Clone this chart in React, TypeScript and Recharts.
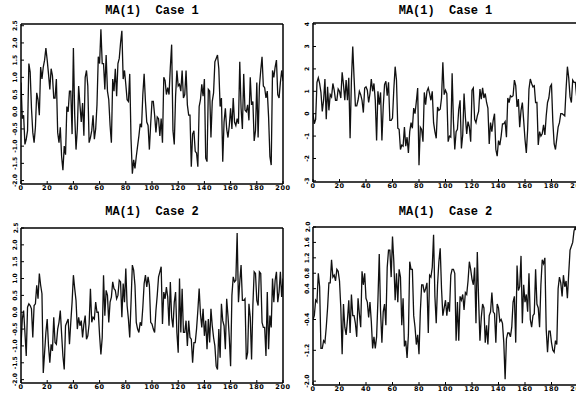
import { LineChart, Line, XAxis, YAxis } from 'recharts';

// MA(1) simulated series, 201 points each (t = 0..200)
const case1Left = [
  0.85, -0.2, -0.1, -0.95, -0.8, -0.55, 1.4, 1.15, 0.1, -0.6,
  -0.9, -0.45, 0.55, 0.35, -0.1, 1.3, 0.95, 1.3, 1.5, 1.85,
  1.5, 1.1, 0.65, 1.25, 1.05, 0.4, 0.4, 0.95, -0.6, -0.9,
  -0.45, -1.3, -1.7, -1.0, -1.25, 0.15, 0.0, 0.6, 0.6, -0.65,
  1.85, -0.1, -1.1, -0.5, 0.75, 0.2, -0.3, 0.25, -0.7, 1.0,
  1.2, 0.75, -0.9, -0.75, -0.55, -0.1, -0.8, -0.5, 0.2, 1.6,
  1.4, 2.4, 1.4, 1.4, 0.65, 1.65, 0.6, 0.35, -0.4, -0.9,
  0.95, 0.6, 1.25, 0.45, 1.4, 1.55, 2.0, 2.35, 0.95, 1.2,
  0.8, 0.35, 0.3, 1.1, -0.8, -1.8, -1.4, -1.65, -1.3, -1.0,
  -0.7, -0.35, -0.45, 0.5, 1.1, 0.3, -0.3, -0.4, -1.1, -0.35,
  0.3, 0.3, -0.1, -0.6, -0.15, -0.2, -0.7, -0.2, -0.9, 1.0,
  0.9, 0.5, 0.7, 0.5, 1.3, 1.95, -0.55, -0.95, 0.45, 1.2,
  0.75, 0.8, 0.6, 1.2, 0.4, 0.5, 1.2, 0.2, -0.1, -0.1,
  -1.6, -0.65, -0.55, -1.15, -1.2, -1.6, 0.15, 0.35, 0.8, 0.45,
  0.95, -1.35, -1.45, 0.65, 0.6, -0.75, 0.3, 0.55, 1.45, 1.55,
  1.65, 1.25, 0.15, 0.4, -1.45, -0.3, 0.1, -0.5, -0.75, -0.4,
  0.1, -0.5, 0.4, -0.3, -0.4, -0.2, -0.35, 1.45, 0.1, -0.5,
  1.1, 0.05, 0.0, 0.2, -0.25, 1.0, 0.2, 0.3, -0.85, -0.55,
  0.85, -0.75, 0.75, 1.2, 1.6, 0.75, 0.7, 0.4, 0.6, -0.15,
  -1.3, -1.55, 1.2, 1.0, 1.3, 1.5, 0.5, 0.4, 0.85, 1.2,
  0.9,
];

const case1Right = [
  0.0, -0.45, -0.25, 1.4, 1.6, 1.35, 0.95, 0.1, 0.6, 1.55,
  -0.25, 1.2, 0.15, 0.85, 0.75, 1.35, 1.05, 0.6, 0.6, 1.1,
  1.0, 0.7, 1.85, 1.3, 0.6, 1.5, 0.6, 1.6, -1.1, 1.5,
  3.0, 1.6, 0.35, 0.35, 0.6, 1.0, 0.85, 0.6, 0.05, 1.15,
  1.2, 1.05, 0.5, 0.9, 1.55, 1.0, 1.35, 0.6, -1.2, 1.0,
  0.4, 0.95, -1.2, 0.3, 1.3, 1.45, 0.8, 1.4, -0.3, -0.3,
  -0.2, 1.1, 2.1, 1.5, -0.65, -0.7, -1.6, -1.4, -1.45, -0.6,
  -1.45, -1.05, -1.75, -0.8, -0.4, -0.65, 0.25, 0.0, 0.55, 1.15,
  -2.3, -0.6, -0.7, -1.25, 0.95, 0.4, 1.0, 1.15, 0.9, 0.6,
  1.0, -0.4, -0.8, -1.1, 0.3, 0.15, 0.2, 0.7, 2.3, 0.85,
  1.05, 0.9, -1.25, -1.0, -1.05, 1.8, -0.35, -1.6, -0.8, -0.7,
  0.2, 0.6, -1.55, -0.95, 0.9, -0.15, -0.9, -0.35, -0.6, -1.25,
  1.05, 1.15, -0.25, -0.4, -0.1, 0.1, 1.1, 0.65, 1.15, 0.7,
  0.9, 0.5, 0.25, -1.35, -0.4, -0.8, -0.3, 0.0, -1.6, -1.9,
  -1.2, -1.4, -1.0, -0.45, -0.45, -0.35, -1.05, 0.7, 0.5, 0.8,
  0.75, 0.8, 1.5, 1.25, 0.3, 0.65, -0.6, 0.15, 0.5, -0.3,
  -1.15, -1.75, -0.7, 1.1, 1.55, 1.35, 1.2, 1.25, 0.5, 0.5,
  -1.4, -0.8, -1.0, -0.9, -0.5, -0.95, -0.1, 0.5, 0.7, 1.2,
  1.3, -0.35, -1.35, -1.6, -1.1, -0.6, -0.4, 0.0, 0.0, -0.05,
  -0.1, 1.1, 2.1, 1.6, 0.75, 0.5, 1.5, 1.4, 1.4, 0.75,
  -0.15,
];

const case2Left = [
  -1.0, -0.2, 0.05, -0.6, -1.3, 0.15, 0.25, 0.2, 0.1, -0.75,
  0.2, 0.25, 0.8, 0.4, 1.15, 0.8, 0.55, -1.8, -1.2, -0.6,
  -0.2, -1.0, -1.5, -0.95, -1.15, -0.15, -0.9, -0.95, -0.5, -0.3,
  0.05, -0.65, -1.3, -1.7, -0.4, -0.3, -0.2, -0.95, -0.3, 0.3,
  1.1, 0.7, 0.35, -0.5, -0.15, -0.4, -0.25, -0.75, -0.35, -0.1,
  -0.8, -0.7, -0.35, 0.7, -0.3, -0.15, -0.2, 0.3, 0.0, 0.0,
  -0.7, -1.25, -0.75, 1.1, -0.1, 0.65, 0.5, -0.3, 0.3, 0.45,
  0.9, 0.7, 0.65, 0.4, 0.5, 0.95, 0.9, -0.15, 0.85, 0.3,
  1.3, 0.2, -0.2, -0.75, 0.3, 1.4, 1.25, 0.8, -0.3, -0.5,
  -0.6, -0.3, -0.4, 0.15, 0.85, 1.1, 0.75, 1.05, 0.8, -0.3,
  -0.35, -0.5, -0.6, 0.05, 0.5, 1.05, 1.2, 1.35, -0.35, 0.6,
  0.4, 0.75, 0.45, -0.4, 0.9, -0.15, -0.45, 0.3, 0.6, -0.6,
  -1.2, 1.0, -0.6, 0.7, -0.6, -0.6, -0.25, -1.0, -0.25, -0.75,
  -0.8, -1.5, -0.9, -0.9, -0.5, 0.05, 0.7, -0.05, -0.45, 0.1,
  -0.7, -0.25, -1.1, -0.2, -0.9, 0.1, -0.4, -0.75, -1.0, -1.6,
  -1.7, -0.5, -1.35, 0.25, -0.25, -0.4, -1.1, 0.4, -0.1, -0.75,
  -1.6, 0.5, 1.05, 0.9, 0.95, 2.35, 0.3, 0.9, 1.4, 0.35,
  0.35, 0.4, -1.4, -1.2, 0.25, -0.15, -1.4, 0.2, 1.2, 1.15,
  0.35, 0.2, 1.2, 1.15, -0.3, -0.45, -0.45, -1.3, 0.6, -1.1,
  -0.1, -0.45, 1.0, 0.3, 0.95, 1.2, 0.3, 0.6, 1.2, 0.45,
  1.0,
];

const case2Right = [
  -0.4, -0.3, 0.1, 0.05, 0.8, 0.45, -1.15, -1.15, -0.95, -1.0,
  -0.6, -0.1, 0.55, 0.55, 1.15, 0.7, 0.75, 0.6, 0.9, 0.85,
  0.6, -0.1, -1.3, 0.0, -0.6, -0.8, -0.4, 0.1, -0.75, 0.25,
  -0.3, -0.3, -0.5, -0.85, 0.15, -0.25, -0.6, 0.85, 0.5, 0.8,
  0.15, 0.05, -0.35, 0.05, -0.45, -1.15, -0.85, -1.15, -0.85, 0.1,
  1.3, -0.2, -1.0, -0.2, 0.0, -0.55, 0.95, 1.4, 1.4, 0.7,
  1.75, 1.1, 0.1, 0.8, 0.05, 0.9, 0.7, -0.55, 0.15, -1.1,
  -0.95, -1.4, -0.8, 1.1, 0.9, 0.9, -0.3, -0.6, -1.05, -0.8,
  -1.3, -0.2, 0.5, 0.5, 0.3, 0.4, 0.55, -0.75, 0.75, 0.7,
  0.95, 1.8, 0.2, -0.5, 0.5, 1.1, 1.45, 0.4, -0.3, -0.1,
  0.1, -0.3, 0.05, -0.2, 0.75, 0.9, 0.9, 0.8, -0.95, 0.05,
  -0.95, 0.2, 0.1, 0.25, -0.15, 0.3, 0.25, 0.6, 1.1, 0.9,
  0.65, 0.5, 0.95, -0.5, 1.35, 0.1, -0.95, -0.35, 0.0, -0.1,
  -1.0, -0.55, -1.05, -0.3, -0.2, 0.3, -0.2, -0.25, -1.0, 0.0,
  -0.1, -0.45, -0.4, -0.5, -1.0, -1.95, -0.9, -0.75, -0.75, -0.85,
  -0.6, 0.05, 0.2, -1.0, 1.0, 0.35, 0.45, 1.25, -0.5, 0.5,
  0.05, 0.25, -0.2, 0.8, -0.4, -0.6, -0.3, -0.25, 0.9, 0.0,
  -0.1, -0.6, 0.5, 1.15, 1.05, 1.2, -0.65, -1.25, -0.7, -0.7,
  -1.0, -1.2, -1.25, -0.95, -1.05, 0.4, 0.7, 0.55, 0.2, 0.75,
  0.45, 0.6, 0.15, 0.8, 1.4, 1.5, 1.6, 1.9, 2.0, 1.9,
  1.7,
];

const xTicks = [0, 20, 40, 60, 80, 100, 120, 140, 160, 180, 200];
const ticksHalf = [-2, -1.5, -1, -0.5, 0, 0.5, 1, 1.5, 2, 2.5];
const ticksUnit = [-3, -2, -1, 0, 1, 2, 3, 4];
const ticksUnitMinor = [-3, -2.5, -2, -1.5, -1, -0.5, 0, 0.5, 1, 1.5, 2, 2.5, 3, 3.5, 4];
const ticksCase2b = [-2, -1.2, -0.4, 0.4, 0.8, 1.2, 1.6, 2];
const ticksCase2bMinor = [
  -2, -1.8, -1.6, -1.4, -1.2, -1, -0.8, -0.6, -0.4, -0.2, 0,
  0.2, 0.4, 0.6, 0.8, 1, 1.2, 1.4, 1.6, 1.8, 2,
];

const FONT = 'DejaVu Sans';

const fmt1 = (v: number) => v.toFixed(1);
const fmt0 = (v: number) => String(v);

function RotTick(props: any) {
  const { x, y, payload, fmt } = props;
  return (
    <text
      x={x}
      y={y}
      transform={`rotate(-90 ${x} ${y})`}
      textAnchor="middle"
      dominantBaseline="central"
      fontSize={6}
      fontWeight="bold"
      fontFamily={FONT}
      fill="#000"
    >
      {fmt(payload.value)}
    </text>
  );
}

type PanelProps = {
  title: string;
  values: number[];
  x: number;
  y: number;
  w: number;
  h: number;
  domain: [number, number];
  ticks: number[];
  minor: number[];
  fmt: (v: number) => string;
  titleTop: number;
};

function Panel({ title, values, x, y, w, h, domain, ticks, minor, fmt, titleTop }: PanelProps) {
  const data = values.map((v, i) => ({ t: i, v }));
  const axisStroke = { stroke: '#000', strokeWidth: 1.5 };
  return (
    <>
      <div
        style={{
          position: 'absolute',
          left: x,
          top: titleTop,
          width: w,
          textAlign: 'center',
          fontFamily: 'Liberation Mono',
          fontWeight: 'bold',
          fontSize: 12,
          lineHeight: '12px',
          whiteSpace: 'pre',
          color: '#000',
        }}
      >
        {title}
      </div>
      <div style={{ position: 'absolute', left: x - 20, top: y - 8 }}>
        <LineChart
          width={w + 30}
          height={h + 22}
          data={data}
          margin={{ top: 7, right: 9, bottom: 0, left: 0 }}
        >
          <XAxis
            xAxisId="b"
            dataKey="t"
            type="number"
            domain={[0, 200]}
            ticks={xTicks}
            allowDataOverflow
            height={14}
            tickSize={-3}
            tickMargin={4}
            axisLine={axisStroke}
            tickLine={{ stroke: '#000' }}
            tick={{ fontSize: 6.5, fontWeight: 'bold', fontFamily: FONT, fill: '#000', letterSpacing: 0.6 }}
            interval={0}
          />
          <XAxis
            xAxisId="t"
            orientation="top"
            dataKey="t"
            type="number"
            domain={[0, 200]}
            ticks={xTicks}
            allowDataOverflow
            height={1}
            tickSize={-3}
            axisLine={axisStroke}
            tickLine={{ stroke: '#000' }}
            tick={false}
            interval={0}
          />
          <YAxis
            yAxisId="l"
            type="number"
            domain={domain}
            ticks={ticks}
            allowDataOverflow
            width={20}
            tickSize={-3}
            tickMargin={9}
            axisLine={axisStroke}
            tickLine={{ stroke: '#000' }}
            tick={(p: any) => <RotTick {...p} fmt={fmt} />}
            interval={0}
          />
          <YAxis
            yAxisId="r"
            orientation="right"
            type="number"
            domain={domain}
            ticks={minor}
            allowDataOverflow
            width={1}
            tickSize={-3}
            axisLine={axisStroke}
            tickLine={{ stroke: '#000' }}
            tick={false}
            interval={0}
          />
          <Line
            xAxisId="b"
            yAxisId="l"
            type="linear"
            dataKey="v"
            stroke="#111"
            strokeWidth={1.3}
            dot={false}
            isAnimationActive={false}
          />
        </LineChart>
      </div>
    </>
  );
}

export default function App() {
  return (
    <div
      style={{
        position: 'absolute',
        left: 0,
        top: 0,
        width: 576,
        height: 396,
        overflow: 'hidden',
        background: '#fff',
      }}
    >
      <Panel
        title="MA(1)  Case 1"
        values={case1Left}
        x={21}
        y={24}
        w={262}
        h={160}
        domain={[-2.1, 2.55]}
        ticks={ticksHalf}
        minor={ticksHalf}
        fmt={fmt1}
        titleTop={5}
      />
      <Panel
        title="MA(1)  Case 1"
        values={case1Right}
        x={313}
        y={23}
        w={265}
        h={159}
        domain={[-3.05, 4.05]}
        ticks={ticksUnit}
        minor={ticksUnitMinor}
        fmt={fmt0}
        titleTop={5}
      />
      <Panel
        title="MA(1)  Case 2"
        values={case2Left}
        x={21}
        y={228}
        w={262}
        h={155}
        domain={[-2.1, 2.5]}
        ticks={ticksHalf}
        minor={ticksHalf}
        fmt={fmt1}
        titleTop={206}
      />
      <Panel
        title="MA(1)  Case 2"
        values={case2Right}
        x={313}
        y={227}
        w={265}
        h={158}
        domain={[-2.1, 2.0]}
        ticks={ticksCase2b}
        minor={ticksCase2bMinor}
        fmt={fmt1}
        titleTop={206}
      />
    </div>
  );
}
